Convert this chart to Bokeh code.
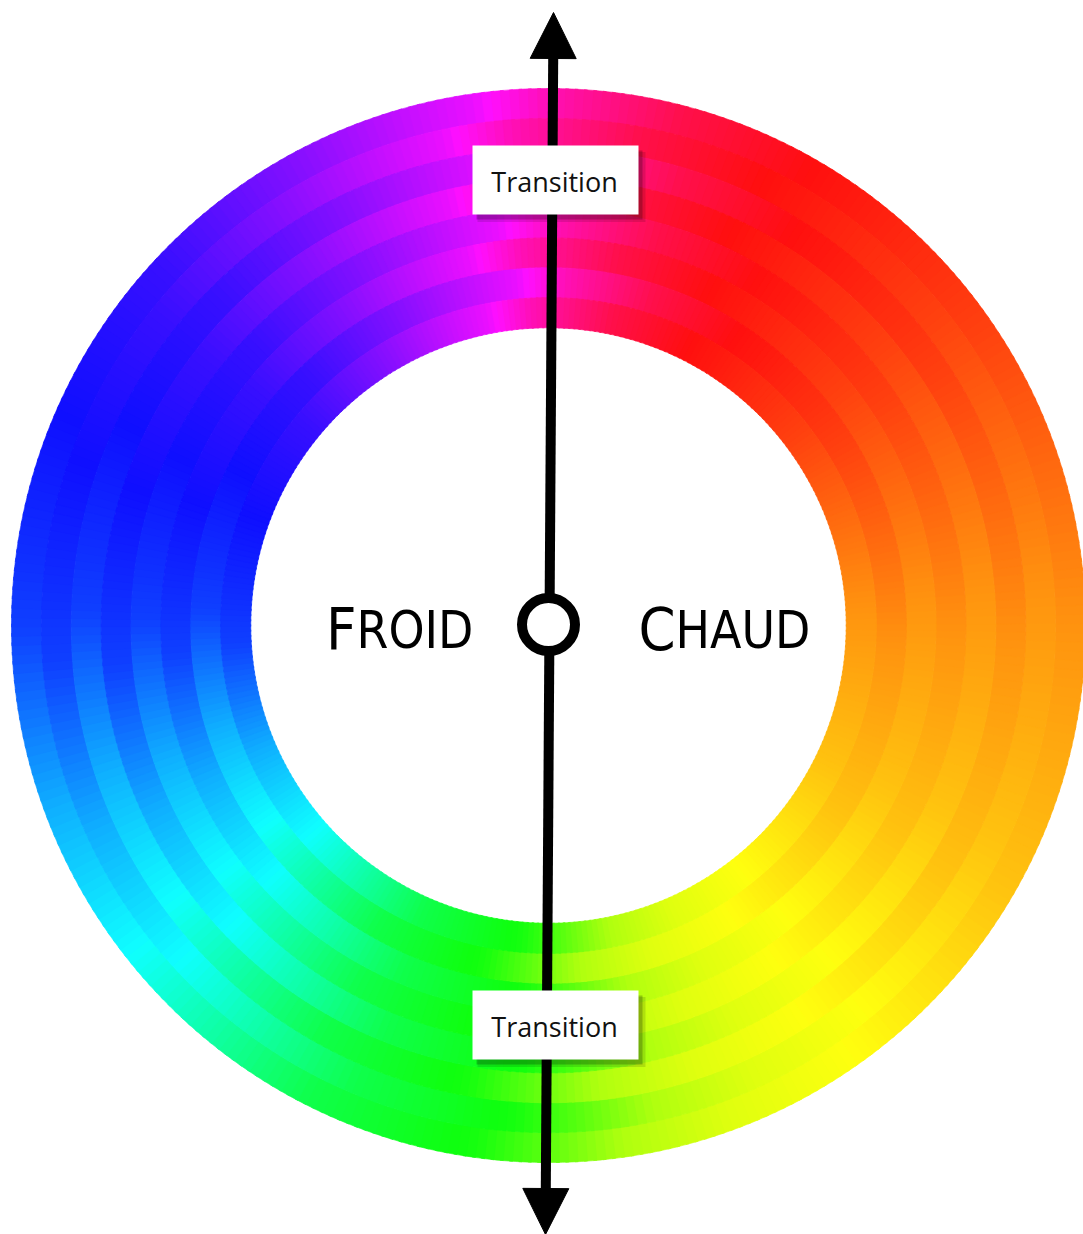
import colorsys
import numpy as np
from bokeh.plotting import figure
from bokeh.models import Range1d, Arrow, NormalHead
from bokeh.core.properties import value
from bokeh.embed import file_html
from bokeh.resources import INLINE

# ---- data: hue stops around the wheel (compass angle, clockwise from top) ----
stop_angles = [0, 15, 30, 55, 90, 120, 145, 160, 172, 180, 188, 207, 232, 250, 270, 313, 332, 352, 360]
stop_hues = [318, 345, 360, 372, 393, 405, 420, 428, 440, 460, 478, 495, 540, 560, 588, 610, 630, 655, 678]
band_offsets = [0, 4, -2, 5, -1, 4, -3, 3]   # per concentric band, outer -> inner (degrees)
side_labels = ["FROID", "CHAUD"]
transition_label = "Transition"

# ---- layout constants ----
R_OUT, R_IN = 537, 298
N_SEG = 360

p = figure(width=1083, height=1234, x_range=Range1d(-548, 535), y_range=Range1d(-609, 625),
           output_backend="svg", toolbar_location=None, min_border=0,
           x_axis_location=None, y_axis_location=None)
p.grid.visible = False
p.outline_line_color = None
p.background_fill_color = "white"
p.border_fill_color = "white"

n_b = len(band_offsets)
bw = (R_OUT - R_IN) / n_b
xs, ys, rin, rout, sa, ea, cols = [], [], [], [], [], [], []
step = 360 / N_SEG
for b, off in enumerate(band_offsets):
    r_o = R_OUT - b * bw
    r_i = r_o - bw
    for k in range(N_SEG):
        phi0 = k * step
        phi_mid = (phi0 + step / 2 + off) % 360
        h = np.interp(phi_mid, stop_angles, stop_hues) % 360
        r, g, bb = colorsys.hsv_to_rgb(h / 360, 0.94, 1.0)
        col = "#%02x%02x%02x" % (int(r * 255), int(g * 255), int(bb * 255))
        th0 = np.radians(90 - (phi0 + step))
        th1 = np.radians(90 - phi0)
        xs.append(0); ys.append(0); rin.append(r_i - 0.3); rout.append(r_o)
        sa.append(th0 - 0.003); ea.append(th1 + 0.003); cols.append(col)

ring = p.annular_wedge(x=xs, y=ys, inner_radius=rin, outer_radius=rout,
                       start_angle=sa, end_angle=ea, fill_color=cols, line_color=cols, line_width=0.6)
ring.level = "image"

# ---- vertical arrow (under the boxes and the centre ring) ----
arrow = Arrow(x_start=-3, y_start=-609, x_end=5, y_end=613, line_width=10, line_color="black",
              start=NormalHead(size=46, fill_color="black", line_color="black", line_width=1),
              end=NormalHead(size=46, fill_color="black", line_color="black", line_width=1),
              level="underlay")
p.add_layout(arrow)

# ---- centre ring ----
p.circle(x=[0], y=[1], radius=26.5, fill_color="white", line_color="black", line_width=10)

# ---- transition boxes ----
box_x = [7, 7]
box_y = [445.5, -399.5]
p.rect(x=[bx + 6 for bx in box_x], y=[by - 7 for by in box_y], width=168, height=70,
       fill_color="black", fill_alpha=0.12, line_color=None)
p.rect(x=[bx + 4 for bx in box_x], y=[by - 5 for by in box_y], width=166, height=69,
       fill_color="black", fill_alpha=0.22, line_color=None)
p.rect(x=box_x, y=box_y, width=166, height=69, fill_color="white", line_color=None)
p.text(x=[bx - 1 for bx in box_x], y=[by - 1 for by in box_y], text=[transition_label] * 2,
       text_font=value("Open Sans"), text_font_size=value("27px"),
       text_align="center", text_baseline="middle", text_color="#111111")

# ---- FROID / CHAUD (small caps look) ----
font = value("'DejaVu Sans Condensed', sans-serif")
split_x = [-192, 127]
first = [w[0] for w in side_labels]
rest = [w[1:] for w in side_labels]
p.text(x=split_x, y=[-4, -4], text=first, text_font=font, text_font_size=value("59px"),
       text_align="right", text_baseline="middle", text_color="black")
p.text(x=split_x, y=[-5, -5], text=rest, text_font=font, text_font_size=value("51px"),
       text_align="left", text_baseline="middle", text_color="black")

open("out.html", "w").write(file_html(p, INLINE))
